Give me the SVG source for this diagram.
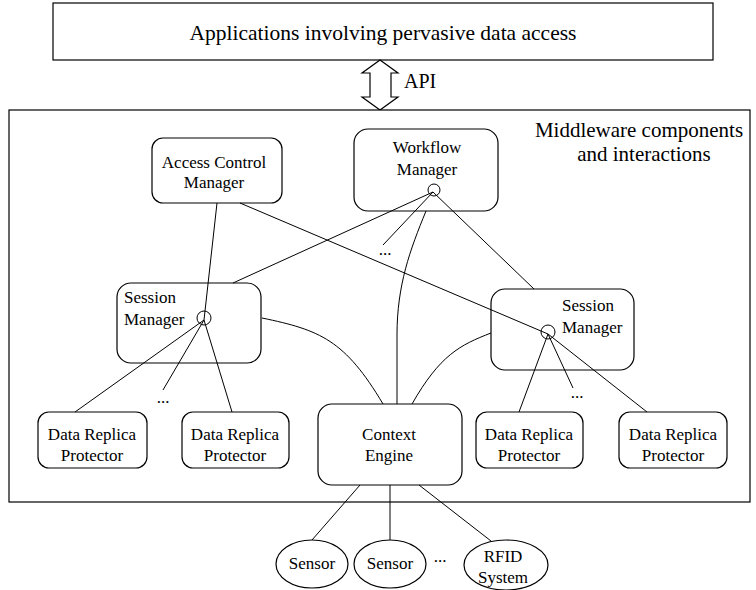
<svg xmlns="http://www.w3.org/2000/svg" width="756" height="590" viewBox="0 0 756 590">
<style>
.box{fill:#fff;stroke:#000;stroke-width:1.2}
.rr{fill:none;stroke:#000;stroke-width:1.2}
.ln{fill:none;stroke:#000;stroke-width:1}
text{font-family:"Liberation Serif","Times New Roman",serif;fill:#000}
.t{font-size:17px;text-anchor:middle}
.big{font-size:21.5px;text-anchor:middle}
.mw{font-size:21px;text-anchor:middle}
.l{text-anchor:start}
.hub{fill:none;stroke:#000;stroke-width:1}
</style>
<rect width="756" height="590" fill="#fff"/>
<g id="applications">
<rect class="box" x="53" y="3" width="660" height="57"/>
<text class="big" x="383" y="40">Applications involving pervasive data access</text>
</g>
<g id="api">
<polygon class="box" points="380,60 398,73 391,73 391,97 398,97 380,110 362,97 370,97 370,73 362,73"/>
<text class="l" style="font-size:20px" x="404" y="88">API</text>
</g>
<g id="middleware">
<rect class="box" x="9" y="110" width="741" height="392"/>
<text class="mw" x="639" y="137">Middleware components</text>
<text class="mw" x="644" y="161">and interactions</text>
</g>
<g id="connectors">
<line class="ln" x1="217" y1="203" x2="204" y2="320"/>
<line class="ln" x1="240" y1="203" x2="548" y2="334"/>
<line class="ln" x1="433" y1="192" x2="233" y2="283"/>
<line class="ln" x1="433" y1="192" x2="383" y2="245"/>
<line class="ln" x1="433" y1="192" x2="534" y2="289"/>
<path class="ln" d="M426,211 C410,250 397,285 397,335 L397,404"/>
<path class="ln" d="M262,318 C320,330 345,340 383,404"/>
<path class="ln" d="M491,333 C460,345 440,355 412,404"/>
<line class="ln" x1="204" y1="320" x2="75" y2="412"/>
<line class="ln" x1="204" y1="320" x2="163" y2="390"/>
<line class="ln" x1="204" y1="320" x2="232" y2="412"/>
<line class="ln" x1="548" y1="334" x2="519" y2="412"/>
<line class="ln" x1="548" y1="334" x2="573" y2="388"/>
<line class="ln" x1="548" y1="334" x2="647" y2="412"/>
<line class="ln" x1="360" y1="485" x2="312" y2="540"/>
<line class="ln" x1="390" y1="485" x2="390" y2="540"/>
<line class="ln" x1="419" y1="485" x2="491" y2="541"/>
</g>
<g id="access-control-manager">
<rect class="rr" x="152" y="138" width="130" height="65" rx="11"/>
<text class="t" x="214" y="168">Access Control</text>
<text class="t" x="214" y="188">Manager</text>
</g>
<g id="workflow-manager">
<rect class="rr" x="354" y="129" width="144" height="82" rx="14"/>
<text class="t" x="427" y="153">Workflow</text>
<text class="t" x="427" y="175">Manager</text>
<circle class="hub" cx="434" cy="190" r="6"/>
</g>
<g id="session-manager-left">
<rect class="rr" x="117" y="283" width="144" height="80" rx="14"/>
<text class="t l" x="124" y="303">Session</text>
<text class="t l" x="124" y="325">Manager</text>
<circle class="hub" cx="204" cy="318" r="7"/>
</g>
<g id="session-manager-right">
<rect class="rr" x="491" y="289" width="143" height="81" rx="14"/>
<text class="t l" x="562" y="311">Session</text>
<text class="t l" x="562" y="333">Manager</text>
<circle class="hub" cx="548" cy="332" r="7"/>
</g>
<g id="context-engine">
<rect class="rr" x="318" y="404" width="144" height="81" rx="14"/>
<text class="t" x="389" y="440">Context</text>
<text class="t" x="389" y="461">Engine</text>
</g>
<g id="drp1">
<rect class="rr" x="38" y="412" width="109" height="56" rx="11"/>
<text class="t" x="92" y="440">Data Replica</text>
<text class="t" x="92" y="461">Protector</text>
</g>
<g id="drp2">
<rect class="rr" x="182" y="412" width="107" height="56" rx="11"/>
<text class="t" x="235" y="440">Data Replica</text>
<text class="t" x="235" y="461">Protector</text>
</g>
<g id="drp3">
<rect class="rr" x="476" y="412" width="107" height="56" rx="11"/>
<text class="t" x="529" y="440">Data Replica</text>
<text class="t" x="529" y="461">Protector</text>
</g>
<g id="drp4">
<rect class="rr" x="619" y="412" width="108" height="56" rx="11"/>
<text class="t" x="673" y="440">Data Replica</text>
<text class="t" x="673" y="461">Protector</text>
</g>
<g id="ellipsis">
<text class="t" x="385" y="255">...</text>
<text class="t" x="163" y="403">...</text>
<text class="t" x="577" y="398">...</text>
<text class="t" x="440" y="562">...</text>
</g>
<g id="sensor1">
<ellipse class="box" cx="312" cy="564" rx="36" ry="24"/>
<text class="t" x="312" y="569">Sensor</text>
</g>
<g id="sensor2">
<ellipse class="box" cx="390" cy="564" rx="36" ry="24"/>
<text class="t" x="390" y="569">Sensor</text>
</g>
<g id="rfid">
<ellipse class="box" cx="506" cy="565" rx="42" ry="25"/>
<text class="t" x="503" y="562">RFID</text>
<text class="t" x="503" y="583">System</text>
</g>
</svg>
